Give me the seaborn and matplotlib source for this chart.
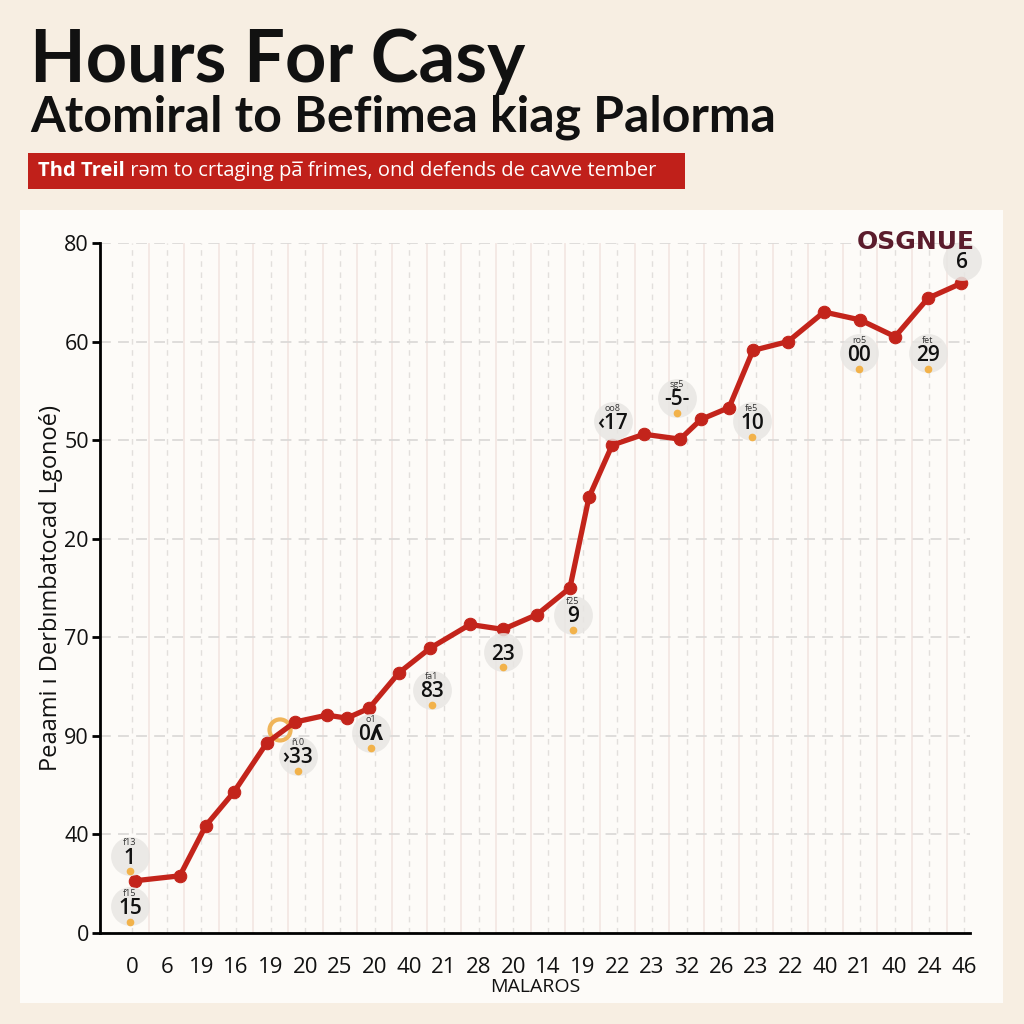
import matplotlib
matplotlib.use("Agg")
import matplotlib.pyplot as plt
import seaborn as sns
import pandas as pd
import numpy as np

# ---------------- data ----------------
x_tick_labels = ["0", "6", "19", "16", "19", "20", "25", "20", "40", "21", "28", "20", "14",
                 "19", "22", "23", "32", "26", "23", "22", "40", "21", "40", "24", "46"]
y_tick_labels = ["0", "40", "90", "70", "20", "50", "60", "80"]

series_x = [0.09, 1.38, 2.13, 2.94, 3.89, 4.70, 5.62, 6.20, 6.84, 7.70, 8.60, 9.75, 10.70,
            11.68, 12.63, 13.18, 13.85, 14.77, 15.81, 16.41, 17.22, 17.91, 18.92, 19.96,
            21.00, 22.01, 22.96, 23.91]
series_y = [0.53, 0.58, 1.09, 1.43, 1.93, 2.14, 2.21, 2.18, 2.28, 2.64, 2.89, 3.13, 3.08,
            3.23, 3.50, 4.42, 4.95, 5.06, 5.01, 5.21, 5.33, 5.91, 6.00, 6.30, 6.22, 6.05,
            6.44, 6.59]

badge_big = ["1", "15", "\u203a33", "0\u028e", "83", "23", "9", "\u203917", "-5-", "10",
             "00", "29", "6"]
badge_small = ["f13", "f15", "\u00f1.0", "o1", "fa1", "", "f25", "oo8", "sg5", "fe5",
               "ro5", "fet", ""]
badge_x = [-0.06, -0.06, 4.79, 6.89, 8.65, 10.70, 12.72, 13.87, 15.72, 17.88, 20.97, 22.96, 23.94]
badge_y = [0.76, 0.25, 1.78, 2.01, 2.45, 2.83, 3.21, 5.17, 5.41, 5.17, 5.86, 5.86, 6.80]
badge_dot = [True, True, True, True, True, True, True, False, True, True, True, True, False]

highlight_x = [4.27]
highlight_y = [2.06]

title = "Hours For Casy"
subtitle = "Atomiral to Befimea kiag Palorma"
banner_bold = "Thd Treil"
banner_rest = " r\u0259m to crtaging pa\u0305 frimes, ond defends de cavve tember"
corner_label = "OSGNUE"
x_label = "MALAROS"
y_label = "Peaami \u0131 Derbımbatocad Lgonoé)"

# ---------------- style ----------------
BG = "#f7eee2"
PANEL = "#fdfbf8"
RED = "#c3241b"
INK = "#111111"

sns.set_theme(style="white")
plt.rcParams["font.family"] = ["Open Sans", "DejaVu Sans"]

fig = plt.figure(figsize=(10.24, 10.24), dpi=100)
fig.patch.set_facecolor(BG)

# white panel (background axes)
bg_ax = fig.add_axes([20 / 1024, 1 - 1003 / 1024, 983 / 1024, 793 / 1024], zorder=-5)
bg_ax.set_facecolor(PANEL)
bg_ax.set_xticks([])
bg_ax.set_yticks([])
for s in bg_ax.spines.values():
    s.set_visible(False)

ax = fig.add_axes([100 / 1024, 1 - 933 / 1024, 870 / 1024, 690 / 1024], zorder=1)
ax.set_facecolor("none")

df = pd.DataFrame({"x": series_x, "y": series_y})
sns.lineplot(data=df, x="x", y="y", ax=ax, color=RED, linewidth=3.8, marker="o",
             markersize=9, markeredgecolor=RED, zorder=5)

# highlight ring
ax.scatter(highlight_x, highlight_y, s=230, facecolors="none", edgecolors="#f0b55a",
           linewidths=3, zorder=4)

xmin = (100 - 132) / 34.67
xmax = (970 - 132) / 34.67
ax.set_xlim(xmin, xmax)
ax.set_ylim(0, 7)

ax.set_xticks(range(len(x_tick_labels)))
ax.set_xticklabels(x_tick_labels, fontsize=16, color=INK)
ax.set_yticks(range(len(y_tick_labels)))
ax.set_yticklabels(y_tick_labels, fontsize=15.5, color=INK)
ax.set_xticks(np.arange(len(x_tick_labels) - 1) + 0.5, minor=True)

ax.tick_params(axis="y", which="major", length=6, width=2, direction="out", pad=2, color="black",
               left=True)
ax.tick_params(axis="x", which="major", length=0, pad=17)
ax.tick_params(axis="x", which="minor", length=0)

ax.grid(axis="y", which="major", linestyle=(0, (6, 4)), color="#dcdad8", linewidth=1.3)
ax.grid(axis="x", which="major", linestyle=(0, (4, 4)), color="#e2dfdc", linewidth=1.0)
ax.grid(axis="x", which="minor", linestyle="-", color="#f3e6e2", linewidth=1.2)

for s in ["top", "right"]:
    ax.spines[s].set_visible(False)
for s in ["left", "bottom"]:
    ax.spines[s].set_color("black")
    ax.spines[s].set_linewidth(2)

ax.set_xlabel(x_label, fontsize=14, labelpad=0, color=INK)
ax.set_ylabel(y_label, fontsize=17, labelpad=1, color=INK)

# badges
dot_tr = matplotlib.transforms.offset_copy(ax.transData, fig=fig, x=0, y=-9.5, units="points")
for bx, by, big, small, dot in zip(badge_x, badge_y, badge_big, badge_small, badge_dot):
    ax.scatter([bx], [by + 0.02], s=780, color="#e8e6e3", alpha=0.85, zorder=6, linewidths=0,
               clip_on=False)
    ax.annotate(big, (bx, by), fontsize=15, ha="center", va="center", zorder=7,
                color=INK, fontweight="semibold", annotation_clip=False)
    if small:
        ax.annotate(small, (bx, by), xytext=(0, 11), textcoords="offset points",
                    fontsize=6.5, ha="center", va="center", zorder=7, color="#333333",
                    annotation_clip=False)
    if dot:
        ax.plot([bx], [by], linestyle="none", marker="o", markersize=4.5,
                color="#f2b24a", zorder=7, transform=dot_tr, clip_on=False)

fig.text(916 / 1024, 1 - 242 / 1024, corner_label, fontsize=18,
         color="#5b1c2c", ha="center", va="center", fontweight="bold",
         family=["DejaVu Sans"], zorder=10)

# titles
fig.text(30 / 1024, 1 - 82 / 1024, title, fontsize=52, fontweight="bold", ha="left",
         va="baseline", color=INK, family=["Lato", "DejaVu Sans"])
fig.text(30 / 1024, 1 - 131 / 1024, subtitle, fontsize=36, fontweight="bold", ha="left",
         va="baseline", color=INK, family=["Lato", "DejaVu Sans"])

fig.patches.append(matplotlib.patches.Rectangle((28 / 1024, 1 - 189 / 1024), 657 / 1024, 36 / 1024,
                                                transform=fig.transFigure, facecolor="#c0201a",
                                                edgecolor="none", zorder=1))
t1 = fig.text(38 / 1024, 1 - 171 / 1024, banner_bold, fontsize=14.5, fontweight="bold",
              ha="left", va="center", color="white", zorder=2)
fig.canvas.draw()
bb = t1.get_window_extent()
fig.text(bb.x1 / 1024, 1 - 171 / 1024, banner_rest, fontsize=14.5, ha="left", va="center",
         color="white", zorder=2)

fig.savefig("out.png", dpi=100, facecolor=BG)
